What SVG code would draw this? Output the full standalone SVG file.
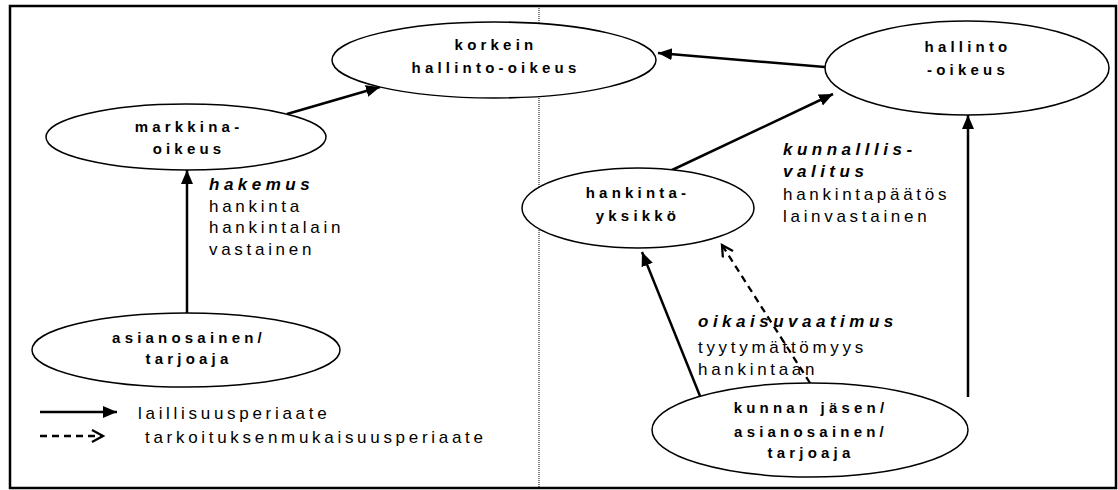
<svg xmlns="http://www.w3.org/2000/svg" width="1118" height="490" viewBox="0 0 1118 490">
<style>
.node ellipse{fill:#fff;stroke:#000;stroke-width:1.5}
.nt{font-family:"Liberation Sans",Arial,sans-serif;font-weight:bold;font-size:15px;letter-spacing:4.2px;text-anchor:middle;fill:#000}
.lt{font-family:"Liberation Sans",Arial,sans-serif;font-size:17px;letter-spacing:3.7px;fill:#000}
.lb{font-family:"Liberation Sans",Arial,sans-serif;font-size:17px;font-weight:bold;font-style:italic;letter-spacing:4.5px;fill:#000}
.c{stroke:#000;stroke-width:2.5;fill:none}
.d{stroke:#000;stroke-width:2.3;fill:none;stroke-dasharray:7,5}
</style>
<defs>
<marker id="ah" markerUnits="userSpaceOnUse" markerWidth="16" markerHeight="14" refX="14" refY="6" orient="auto"><path d="M0,0 L14,6 L0,12 z" fill="#000"/></marker>
<marker id="oh" markerUnits="userSpaceOnUse" markerWidth="16" markerHeight="16" refX="12" refY="7" orient="auto"><path d="M1,1 L12,7 L1,13" fill="none" stroke="#000" stroke-width="2.3"/></marker>
</defs>
<rect x="10" y="6" width="1106" height="482" fill="#fff" stroke="#000" stroke-width="2.5"/>
<line x1="539" y1="8" x2="539" y2="487" stroke="#000" stroke-width="1" stroke-dasharray="1,1"/>
<g id="connectors">
<line class="c" x1="287" y1="114" x2="380" y2="87" marker-end="url(#ah)"/>
<line class="c" x1="825" y1="67" x2="658" y2="53" marker-end="url(#ah)"/>
<line class="c" x1="670" y1="171" x2="833" y2="94" marker-end="url(#ah)"/>
<line class="c" x1="187" y1="313" x2="187" y2="170" marker-end="url(#ah)"/>
<line class="c" x1="700" y1="396" x2="642" y2="252" marker-end="url(#ah)"/>
<line class="d" x1="810" y1="383" x2="722" y2="245" marker-end="url(#oh)"/>
<line class="c" x1="968" y1="397" x2="968" y2="115" marker-end="url(#ah)"/>
</g>
<g id="korkein" class="node">
<ellipse cx="494" cy="60" rx="162" ry="38"/>
<text class="nt" x="496" y="50">korkein</text>
<text class="nt" x="496" y="73">hallinto-oikeus</text>
</g>
<g id="hallinto" class="node">
<ellipse cx="967" cy="68" rx="142" ry="47"/>
<text class="nt" x="968" y="52">hallinto</text>
<text class="nt" x="968" y="75">-oikeus</text>
</g>
<g id="markkina" class="node">
<ellipse cx="186" cy="137" rx="140" ry="33"/>
<text class="nt" x="189" y="132">markkina-</text>
<text class="nt" x="189" y="154">oikeus</text>
</g>
<g id="hankinta" class="node">
<ellipse cx="638" cy="208" rx="116" ry="40"/>
<text class="nt" x="638" y="198">hankinta-</text>
<text class="nt" x="638" y="221">yksikkö</text>
</g>
<g id="asianosainen" class="node">
<ellipse cx="186" cy="350" rx="154" ry="37"/>
<text class="nt" x="189" y="343">asianosainen/</text>
<text class="nt" x="189" y="364">tarjoaja</text>
</g>
<g id="kunnan" class="node">
<ellipse cx="810" cy="430" rx="158" ry="47"/>
<text class="nt" x="811" y="413">kunnan jäsen/</text>
<text class="nt" x="811" y="437">asianosainen/</text>
<text class="nt" x="811" y="458">tarjoaja</text>
</g>
<g id="labels">
<text class="lb" x="209" y="190">hakemus</text>
<text class="lt" x="209" y="212">hankinta</text>
<text class="lt" x="209" y="233">hankintalain</text>
<text class="lt" x="209" y="255">vastainen</text>
<text class="lb" x="783" y="155">kunnalllis-</text>
<text class="lb" x="783" y="177">valitus</text>
<text class="lt" x="783" y="200">hankintapäätös</text>
<text class="lt" x="783" y="222">lainvastainen</text>
<text class="lb" x="698" y="327">oikaisuvaatimus</text>
<text class="lt" x="698" y="353">tyytymättömyys</text>
<text class="lt" x="698" y="375">hankintaan</text>
</g>
<g id="legend">
<line class="c" x1="40" y1="412" x2="117" y2="412" marker-end="url(#ah)"/>
<text class="lt" x="138" y="419">laillisuusperiaate</text>
<line class="d" x1="40" y1="436" x2="103" y2="436" stroke-dasharray="8,5" marker-end="url(#oh)"/>
<text class="lt" x="145" y="443">tarkoituksenmukaisuusperiaate</text>
</g>
</svg>
